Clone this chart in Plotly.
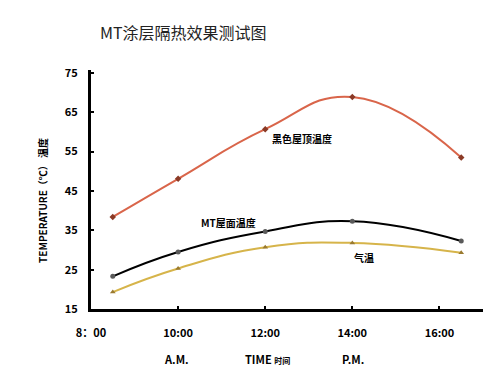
import plotly.graph_objects as go

times = [8.5, 10, 12, 14, 16.5]
black_roof = [38.4, 48.1, 60.7, 68.9, 53.5]
mt_roof = [23.3, 29.5, 34.7, 37.3, 32.3]
air_temp = [19.3, 25.3, 30.7, 31.8, 29.3]

x_tickvals = [8, 10, 12, 14, 16]
x_ticktext = ["8：00", "10:00", "12:00", "14:00", "16:00"]
y_tickvals = [15, 25, 35, 45, 55, 65, 75]

FONT = "Noto Sans CJK SC"
W, H = 500, 380
L, R, T, B = 91, 17, 70, 71
PW, PH = W - L - R, H - T - B


def px(x):
    return (x - L) / PW


def py(y):
    return (H - B - y) / PH


fig = go.Figure()
series = [
    (black_roof, "黑色屋顶温度", "#d9654a", "#8b3a26", "diamond", 5),
    (mt_roof, "MT屋面温度", "#000000", "#5a5a5a", "circle", 5),
    (air_temp, "气温", "#d6b44a", "#9a7a30", "triangle-up", 5),
]
for vals, name, lc, mc, sym, ms in series:
    fig.add_trace(go.Scatter(
        x=times, y=vals, name=name, mode="lines+markers",
        line=dict(color=lc, width=2, shape="spline", smoothing=1.3),
        marker=dict(color=mc, symbol=sym, size=ms),
    ))

fig.update_layout(
    width=W, height=H,
    margin=dict(l=L, r=R, t=T, b=B, autoexpand=False),
    paper_bgcolor="white", plot_bgcolor="white",
    showlegend=False,
    font=dict(family=FONT, color="#111111"),
    title=dict(text="MT涂层隔热效果测试图", x=100 / W, xanchor="left",
               xref="container", yref="container",
               y=1 - 33 / H, yanchor="middle",
               font=dict(family=FONT, size=16, color="#222222")),
    xaxis=dict(range=[8, 17], tickvals=x_tickvals, ticktext=x_ticktext,
               showgrid=False, zeroline=False, automargin=False,
               showline=True, linecolor="black", linewidth=3,
               ticks="inside", ticklen=3, tickwidth=2, tickcolor="black",
               ticklabelstandoff=12,
               tickfont=dict(family=FONT, size=11, color="black", weight="bold")),
    yaxis=dict(range=[15, 75.75], tickvals=y_tickvals,
               showgrid=False, zeroline=False, automargin=False,
               showline=True, linecolor="black", linewidth=3,
               ticks="inside", ticklen=3, tickwidth=2, tickcolor="black",
               ticklabelstandoff=8,
               tickfont=dict(family=FONT, size=11, color="black", weight="bold")),
)

ann_font = dict(family=FONT, size=10, color="black", weight="bold")
annotations = [
    dict(text="黑色屋顶温度", x=270, y=138),
    dict(text="MT屋面温度", x=199, y=222),
    dict(text="气温", x=352, y=257),
]
for a in annotations:
    fig.add_annotation(text=a["text"], x=px(a["x"]), y=py(a["y"]),
                       xref="paper", yref="paper", xanchor="left", yanchor="middle",
                       showarrow=False, font=ann_font)

bold11 = dict(family=FONT, size=11, color="black", weight="bold")
fig.add_annotation(text="A.M.", x=px(176), y=py(359), xref="paper", yref="paper",
                   xanchor="center", yanchor="middle", showarrow=False, font=bold11)
fig.add_annotation(text="TIME <span style='font-size:8px'>时间</span>", x=px(243), y=py(359),
                   xref="paper", yref="paper", xanchor="left", yanchor="middle",
                   showarrow=False, font=bold11)
fig.add_annotation(text="P.M.", x=px(353), y=py(359), xref="paper", yref="paper",
                   xanchor="center", yanchor="middle", showarrow=False, font=bold11)

fig.add_annotation(text="TEMPERATURE（℃） 温度", x=px(43), y=py(201),
                   xref="paper", yref="paper", xanchor="center", yanchor="middle",
                   textangle=-90, showarrow=False,
                   font=dict(family=FONT, size=10, color="black", weight="bold"))

fig.write_html("out.html", config={"displayModeBar": False},
               post_script="document.body.style.margin='0';")
